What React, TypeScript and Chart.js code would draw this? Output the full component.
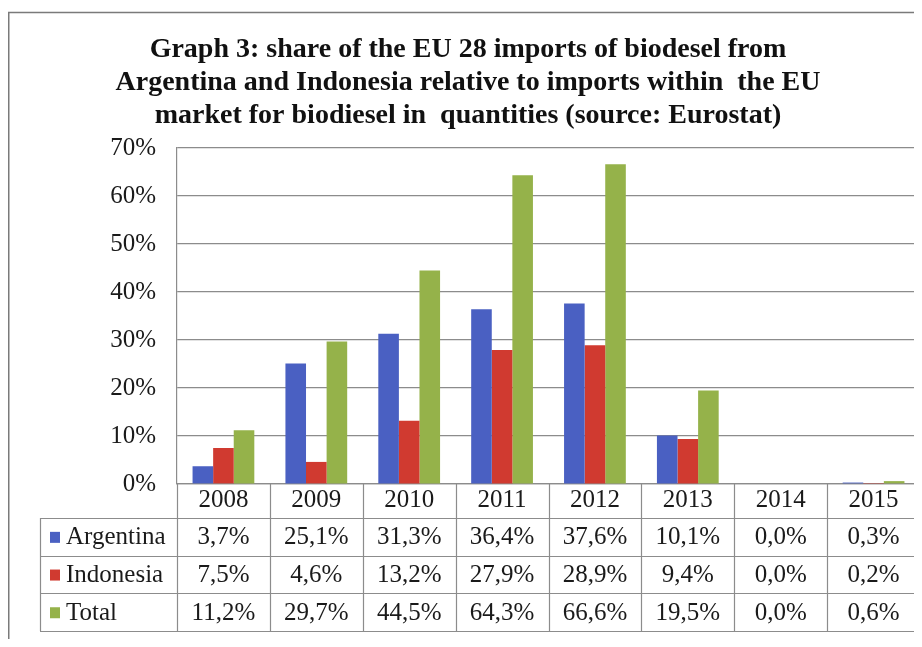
import React, { useEffect, useRef } from "react";
import { Chart, registerables } from "chart.js";

Chart.register(...registerables);

const titleLines = [
  "Graph 3: share of the EU 28 imports of biodesel from",
  "Argentina and Indonesia relative to imports within  the EU",
  "market for biodiesel in  quantities (source: Eurostat)",
];
const years = ["2008", "2009", "2010", "2011", "2012", "2013", "2014", "2015"];
const seriesNames = ["Argentina", "Indonesia", "Total"];
const argentina = [3.7, 25.1, 31.3, 36.4, 37.6, 10.1, 0.0, 0.3];
const indonesia = [7.5, 4.6, 13.2, 27.9, 28.9, 9.4, 0.0, 0.2];
const total = [11.2, 29.7, 44.5, 64.3, 66.6, 19.5, 0.0, 0.6];
const seriesColors = ["#4a60c2", "#d03a30", "#95b24a"];

const FONT = '"Liberation Serif", "Times New Roman", serif';
const LINE = "#8c8c8c";

const fmt = (v: number) => v.toFixed(1).replace(".", ",") + "%";

const framePlugin = {
  id: "frame",
  beforeDraw(chart: any) {
    const ctx = chart.ctx;
    ctx.save();
    ctx.fillStyle = "#ffffff";
    ctx.fillRect(0, 0, chart.width, chart.height);
    ctx.strokeStyle = "#7a7a7a";
    ctx.lineWidth = 1.5;
    ctx.beginPath();
    ctx.moveTo(8.75, chart.height + 5);
    ctx.lineTo(8.75, 12.5);
    ctx.lineTo(chart.width + 5, 12.5);
    ctx.stroke();
    ctx.fillStyle = "#111111";
    ctx.font = `bold 28px ${FONT}`;
    ctx.textAlign = "center";
    ctx.textBaseline = "alphabetic";
    const baselines = [57, 90, 123];
    titleLines.forEach((t, i) => ctx.fillText(t, 468, baselines[i]));
    ctx.restore();
  },
};

const tablePlugin = {
  id: "datatable",
  afterDraw(chart: any) {
    const ctx = chart.ctx;
    const area = chart.chartArea;
    const xs = chart.scales.x;
    const n = years.length;
    const cw = (area.right - area.left) / n;
    const headerBottom = area.bottom + 34;
    const rowH = 37.7;
    const tableLeft = 40;
    const series = [argentina, indonesia, total];
    ctx.save();
    ctx.strokeStyle = LINE;
    ctx.lineWidth = 1.2;
    ctx.beginPath();
    for (let r = 0; r <= 3; r++) {
      const y = Math.round(headerBottom + r * rowH) + 0.5;
      ctx.moveTo(tableLeft, y);
      ctx.lineTo(area.right, y);
    }
    ctx.moveTo(tableLeft + 0.5, headerBottom);
    ctx.lineTo(tableLeft + 0.5, headerBottom + 3 * rowH);
    for (let i = 0; i <= n; i++) {
      const x = Math.round(area.left + i * cw) + 0.5;
      ctx.moveTo(x, area.bottom);
      ctx.lineTo(x, headerBottom + 3 * rowH);
    }
    ctx.stroke();

    ctx.font = `25px ${FONT}`;
    ctx.textBaseline = "middle";
    for (let r = 0; r < 3; r++) {
      const cy = headerBottom + r * rowH + rowH / 2 + 1;
      ctx.fillStyle = seriesColors[r];
      ctx.fillRect(50, cy - 6, 10, 11);
      ctx.fillStyle = "#1a1a1a";
      ctx.textAlign = "left";
      ctx.fillText(seriesNames[r], 66, cy);
      ctx.textAlign = "center";
      for (let i = 0; i < n; i++) {
        const cx = xs.getPixelForValue(i);
        ctx.fillText(fmt(series[r][i]), cx, cy);
      }
    }
    ctx.restore();
  },
};

export default function App() {
  const ref = useRef<HTMLCanvasElement | null>(null);
  useEffect(() => {
    if (!ref.current) return;
    const chart = new Chart(ref.current, {
      type: "bar",
      data: {
        labels: years,
        datasets: [
          { label: seriesNames[0], data: argentina, backgroundColor: seriesColors[0] },
          { label: seriesNames[1], data: indonesia, backgroundColor: seriesColors[1] },
          { label: seriesNames[2], data: total, backgroundColor: seriesColors[2] },
        ],
      },
      options: {
        animation: false,
        responsive: false,
        maintainAspectRatio: false,
        layout: { padding: { top: 148, right: 6, bottom: 129, left: 0 } },
        datasets: { bar: { categoryPercentage: 0.665, barPercentage: 1 } },
        plugins: { legend: { display: false }, tooltip: { enabled: false }, title: { display: false } },
        scales: {
          x: {
            grid: { display: false, drawTicks: false },
            border: { display: true, color: LINE, width: 1.2 },
            ticks: { color: "#1a1a1a", font: { family: FONT, size: 25 }, padding: 1, maxRotation: 0, autoSkip: false },
            afterFit: (s: any) => { s.height = 34; },
          },
          y: {
            min: 0,
            max: 70,
            grid: { color: LINE, lineWidth: 1.2, drawTicks: false },
            border: { display: true, color: LINE, width: 1.2 },
            ticks: { stepSize: 10, color: "#1a1a1a", font: { family: FONT, size: 25 }, padding: 21, callback: (v: any) => v + "%" },
            afterFit: (s: any) => { s.width = 177; },
          },
        },
      },
      plugins: [framePlugin, tablePlugin],
    });
    return () => chart.destroy();
  }, []);
  return (
    <div style={{ margin: -8, width: 922, height: 647, overflow: "hidden" }}>
      <canvas ref={ref} width={926} height={647} style={{ display: "block" }} />
    </div>
  );
}
